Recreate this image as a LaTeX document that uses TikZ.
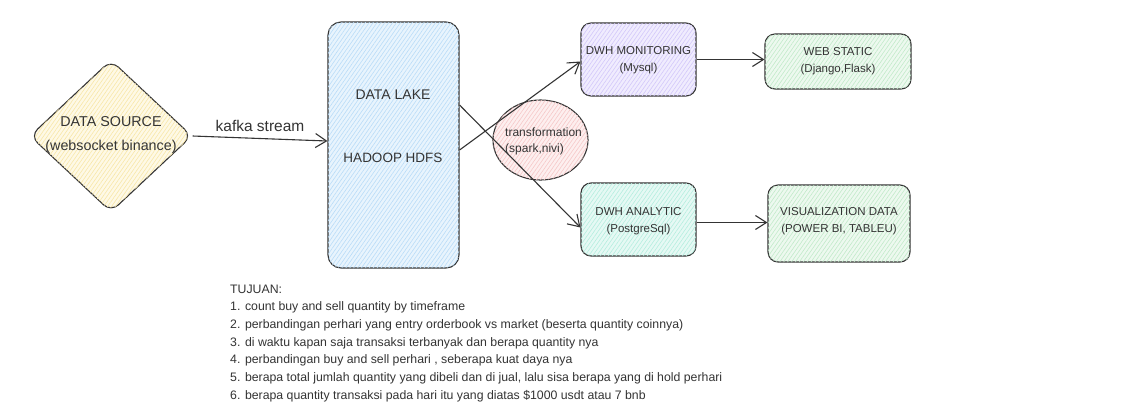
\documentclass[tikz,border=0pt]{standalone}
\usepackage{fontspec}
\setmainfont{Liberation Sans}
\usetikzlibrary{shapes.geometric,arrows.meta,patterns.meta}
\definecolor{ink}{HTML}{343434}
\definecolor{cyellow}{HTML}{FEF9E6}
\definecolor{hyellow}{HTML}{F8E7A8}
\definecolor{cblue}{HTML}{E8F4FD}
\definecolor{hblue}{HTML}{B9DCF8}
\definecolor{clav}{HTML}{F0ECFE}
\definecolor{hlav}{HTML}{D3C8FA}
\definecolor{cgreen}{HTML}{EDF9EF}
\definecolor{hgreen}{HTML}{C2EACA}
\definecolor{cpink}{HTML}{FDEFEF}
\definecolor{hpink}{HTML}{F6C8C8}
\definecolor{cmint}{HTML}{E6F9F4}
\definecolor{hmint}{HTML}{B5EEDF}
\tikzset{
  shapebox/.style={draw=ink, line width=1.1pt, rounded corners=10pt, inner sep=0pt},
  hatch/.style={postaction={pattern={Lines[angle=55,distance=3.2pt,line width=0.6pt]}, pattern color=#1}},
  lbl/.style={text=ink, align=center, inner sep=0pt},
  arr/.style={draw=ink, line width=1.1pt, -{Straight Barb[length=11pt,width=14pt,line width=1.1pt]}},
}
\begin{document}
\begin{tikzpicture}[x=1pt,y=-1pt]
\useasboundingbox[fill=white] (0,0) rectangle (1146,416);

% nodes
\node[shapebox, diamond, fill=cyellow, hatch=hyellow, minimum width=162pt, minimum height=152pt] (src) at (111,136) {};
\node[lbl, font=\fontsize{14.3}{24}\selectfont] (srct) at (111,135) {DATA SOURCE\\(websocket binance)};

\node[shapebox, rectangle, rounded corners=13pt, fill=cblue, hatch=hblue, minimum width=131pt, minimum height=246pt] (lake) at (393.5,145) {};
\node[lbl, font=\fontsize{14}{16}\selectfont] (laket1) at (393,95) {DATA LAKE};
\node[lbl, font=\fontsize{13.5}{16}\selectfont] (laket2) at (393,158) {HADOOP HDFS};

\node[shapebox, ellipse, fill=cpink, hatch=hpink, minimum width=95pt, minimum height=80pt] (trans) at (540.5,140) {};
\node[lbl, align=left, anchor=west, font=\fontsize{12}{16}\selectfont] (transt) at (505,141) {transformation\\(spark,nivi)};

\node[shapebox, rectangle, fill=clav, hatch=hlav, minimum width=115pt, minimum height=73pt] (mon) at (638.5,59.5) {};
\node[lbl, font=\fontsize{11.5}{16.5}\selectfont] (mont) at (638.5,60) {DWH MONITORING\\(Mysql)};

\node[shapebox, rectangle, fill=cgreen, hatch=hgreen, minimum width=146pt, minimum height=55pt] (web) at (838,61.5) {};
\node[lbl, font=\fontsize{11.5}{16.5}\selectfont] (webt) at (838,61) {WEB STATIC\\(Django,Flask)};

\node[shapebox, rectangle, fill=cmint, hatch=hmint, minimum width=115pt, minimum height=73pt] (ana) at (638.5,219.5) {};
\node[lbl, font=\fontsize{11.5}{16.5}\selectfont] (anat) at (638.5,221) {DWH ANALYTIC\\(PostgreSql)};

\node[shapebox, rectangle, fill=cgreen, hatch=hgreen, minimum width=142pt, minimum height=77pt] (vis) at (839,223.5) {};
\node[lbl, font=\fontsize{11.5}{16.5}\selectfont] (vist) at (839,221) {VISUALIZATION DATA\\(POWER BI, TABLEU)};

% connectors
\draw[arr] (src.east) -- node[above=3pt, text=ink, font=\fontsize{15.5}{17}\selectfont] (kafka) {kafka stream} ([yshift=4pt]lake.west);
\draw[arr] ([yshift=-5pt]lake.east) -- ([yshift=-2pt]mon.west);
\draw[arr] ([yshift=40pt]lake.east) -- ([yshift=-8pt]ana.west);
\draw[arr] (mon.east) -- (web.west |- mon.east);
\draw[arr] ([yshift=-3pt]ana.east) -- ([yshift=-3pt]vis.west |- ana.east);

% goals
\node[text=ink, align=left, anchor=north west, inner sep=0pt, font=\fontsize{12.3}{17.7}\selectfont] (goals) at (230,284.5) {TUJUAN:\\
1. count buy and sell quantity by timeframe\\
2. perbandingan perhari yang entry orderbook vs market (beserta quantity coinnya)\\
3. di waktu kapan saja transaksi terbanyak dan berapa quantity nya\\
4. perbandingan buy and sell perhari , seberapa kuat daya nya\\
5. berapa total jumlah quantity yang dibeli dan di jual, lalu sisa berapa yang di hold perhari\\
6. berapa quantity transaksi pada hari itu yang diatas \$1000 usdt atau 7 bnb};
\end{tikzpicture}
\end{document}
